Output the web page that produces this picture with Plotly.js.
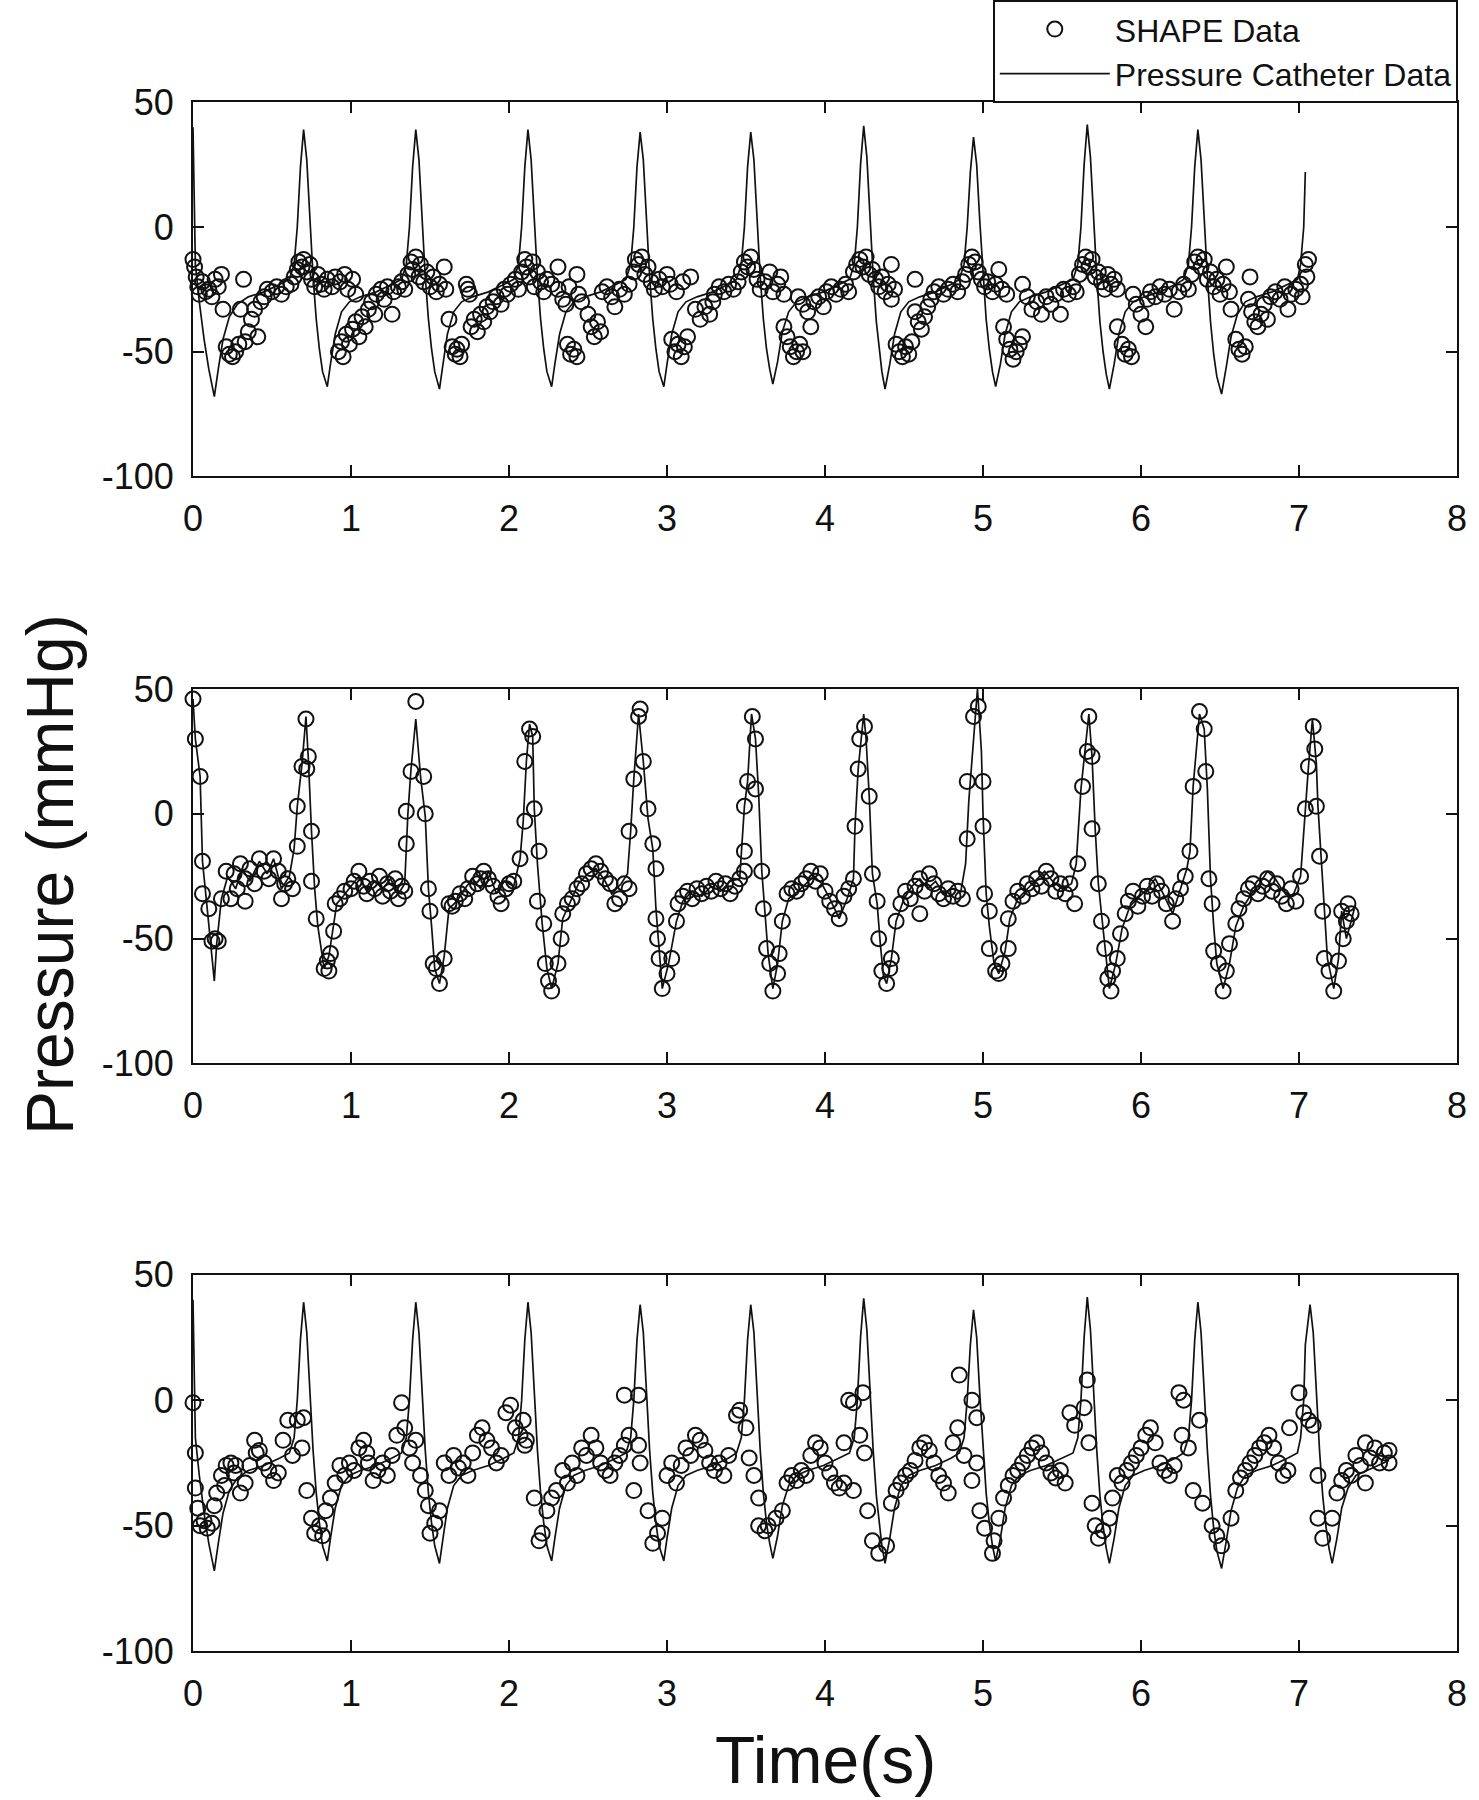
<!DOCTYPE html>
<html>
<head>
<meta charset="utf-8">
<script src="https://cdn.plot.ly/plotly-3.0.1.min.js"></script>
<style>body { margin: 0; background: #fff; }</style>
</head>
<body>
<div id="chart" style="width:1479px;height:1800px"></div>
<script>
// pressure catheter recording [time s, mmHg], same trace in top and bottom panel
var catheter = [
    [0.000,40],[0.008,10],[0.015,-15],[0.04,-30],[0.07,-45],[0.10,-57],[0.135,-68],[0.16,-57],[0.19,-45],[0.23,-36],[0.28,-31],[0.35,-28],[0.45,-26],[0.55,-23],[0.61,-21],
    [0.64,-15],[0.66,0],[0.68,24],[0.70,39],[0.72,27],[0.74,3],[0.76,-20],[0.78,-37],[0.80,-49],[0.82,-58],[0.85,-64],[0.87,-55],[0.90,-43],[0.94,-34],[0.99,-30],[1.06,-28],[1.16,-26],[1.26,-23],[1.32,-21],
    [1.35,-15],[1.37,0],[1.39,24],[1.41,39],[1.43,27],[1.45,3],[1.47,-20],[1.49,-37],[1.51,-49],[1.53,-58],[1.56,-65],[1.58,-56],[1.61,-43],[1.65,-34],[1.70,-30],[1.77,-28],[1.87,-26],[1.97,-23],[2.03,-21],
    [2.06,-15],[2.08,0],[2.10,24],[2.12,39],[2.14,27],[2.16,3],[2.18,-20],[2.20,-37],[2.22,-49],[2.24,-58],[2.27,-64],[2.29,-55],[2.32,-43],[2.36,-34],[2.41,-30],[2.48,-28],[2.58,-26],[2.68,-23],[2.74,-21],
    [2.77,-15],[2.79,0],[2.81,24],[2.83,38],[2.85,27],[2.87,3],[2.89,-20],[2.91,-37],[2.93,-49],[2.95,-58],[2.98,-64],[3.00,-55],[3.03,-43],[3.07,-34],[3.12,-30],[3.19,-28],[3.29,-26],[3.39,-23],[3.44,-21],
    [3.47,-15],[3.49,0],[3.51,24],[3.53,38],[3.55,27],[3.57,3],[3.59,-20],[3.61,-37],[3.63,-49],[3.65,-57],[3.67,-63],[3.70,-54],[3.73,-42],[3.77,-34],[3.82,-30],[3.89,-28],[3.99,-26],[4.09,-23],[4.155,-21],
    [4.185,-15],[4.205,0],[4.225,25],[4.245,40.5],[4.265,28],[4.285,3],[4.305,-20],[4.325,-38],[4.345,-50],[4.36,-58],[4.38,-65],[4.41,-55],[4.44,-43],[4.48,-34],[4.53,-30],[4.60,-28],[4.70,-26],[4.80,-23],[4.85,-21],
    [4.88,-15],[4.90,0],[4.92,22],[4.94,36],[4.96,25],[4.98,2],[5.00,-20],[5.02,-37],[5.04,-49],[5.06,-58],[5.08,-64],[5.11,-55],[5.14,-43],[5.18,-34],[5.23,-30],[5.30,-28],[5.40,-26],[5.50,-23],[5.57,-21],
    [5.60,-15],[5.62,0],[5.64,25],[5.66,41],[5.68,28],[5.70,3],[5.72,-20],[5.74,-38],[5.76,-50],[5.78,-59],[5.80,-65],[5.83,-55],[5.86,-43],[5.90,-34],[5.95,-30],[6.02,-28],[6.12,-26],[6.22,-23],[6.27,-21],
    [6.30,-15],[6.32,0],[6.34,24],[6.36,39],[6.38,27],[6.40,3],[6.42,-20],[6.44,-38],[6.46,-51],[6.48,-60],[6.51,-67],[6.54,-56],[6.57,-44],[6.61,-35],[6.66,-30],[6.73,-28],[6.83,-26],[6.93,-23],[6.99,-21],
    [7.01,-15],[7.03,0],[7.04,22],[7.07,38],[7.09,27],[7.11,3],[7.13,-20],[7.15,-38],[7.17,-50],[7.19,-59],[7.21,-65],[7.24,-55],[7.27,-43],[7.31,-35],[7.36,-30],[7.43,-28],[7.50,-26],[7.57,-24]
]
var topPanelEnd = 7.04

// catheter trace of the middle panel
var catheterMid = [
    [0.00,46],[0.015,30],[0.045,15],[0.06,-19],[0.09,-38],[0.135,-67],[0.15,-52],[0.18,-34],[0.22,-25],[0.27,-30],[0.31,-22],[0.36,-27],[0.42,-19],[0.47,-24],[0.51,-18],[0.56,-30],[0.61,-25],
    [0.64,-14],[0.66,3],[0.69,20],[0.715,39],[0.73,22],[0.75,-7],[0.77,-30],[0.79,-45],[0.83,-62],[0.86,-57],[0.88,-48],[0.91,-36],[0.95,-33],[1.00,-29],[1.05,-25],[1.10,-31],[1.15,-27],[1.20,-30],[1.25,-26],[1.30,-32],[1.34,-28],
    [1.36,0],[1.38,18],[1.41,38],[1.44,15],[1.47,-1],[1.49,-30],[1.51,-45],[1.53,-62],[1.56,-68],[1.59,-57],[1.62,-38],[1.67,-35],[1.72,-30],[1.77,-26],[1.82,-30],[1.87,-23],[1.92,-32],[1.97,-27],[2.03,-29],
    [2.07,-18],[2.09,-3],[2.11,21],[2.13,36],[2.15,31],[2.16,2],[2.18,-20],[2.21,-44],[2.24,-62],[2.27,-70],[2.31,-60],[2.34,-42],[2.39,-35],[2.44,-28],[2.50,-24],[2.55,-22],[2.60,-26],[2.65,-32],[2.71,-28],[2.75,-24],
    [2.77,-7],[2.79,14],[2.82,40],[2.85,21],[2.88,-2],[2.91,-14],[2.93,-38],[2.95,-55],[2.97,-70],[3.01,-60],[3.06,-43],[3.10,-35],[3.16,-31],[3.22,-33],[3.28,-29],[3.34,-31],[3.40,-27],[3.46,-26],
    [3.49,3],[3.51,13],[3.535,40],[3.56,30],[3.58,8],[3.60,-23],[3.62,-40],[3.64,-56],[3.67,-70],[3.70,-60],[3.73,-43],[3.77,-34],[3.83,-31],[3.88,-28],[3.93,-25],[3.98,-28],[4.03,-34],[4.09,-42],[4.14,-34],[4.18,-26],
    [4.19,-5],[4.21,18],[4.245,40],[4.26,30],[4.28,7],[4.30,-24],[4.33,-36],[4.35,-52],[4.37,-65],[4.39,-68],[4.42,-58],[4.45,-43],[4.50,-34],[4.55,-29],[4.60,-26],[4.65,-30],[4.70,-27],[4.75,-32],[4.80,-30],[4.86,-31],
    [4.89,-20],[4.91,5],[4.94,30],[4.965,50],[4.99,25],[5.00,0],[5.02,-32],[5.04,-45],[5.07,-60],[5.10,-64],[5.14,-55],[5.17,-42],[5.22,-34],[5.28,-30],[5.33,-27],[5.39,-23],[5.44,-27],[5.50,-30],[5.56,-28],
    [5.59,-20],[5.62,10],[5.65,28],[5.67,40],[5.69,23],[5.71,-6],[5.73,-28],[5.76,-46],[5.78,-60],[5.80,-70],[5.84,-60],[5.88,-46],[5.93,-37],[5.99,-33],[6.04,-30],[6.09,-26],[6.14,-32],[6.20,-40],[6.25,-30],[6.29,-22],
    [6.31,-15],[6.33,11],[6.37,40],[6.40,34],[6.42,10],[6.44,-26],[6.46,-45],[6.48,-60],[6.52,-70],[6.56,-60],[6.60,-45],[6.65,-37],[6.70,-32],[6.75,-28],[6.80,-23],[6.85,-26],[6.90,-31],[6.96,-33],[7.01,-25],
    [7.04,2],[7.06,19],[7.085,38],[7.11,20],[7.12,3],[7.14,-17],[7.16,-40],[7.18,-58],[7.22,-70],[7.25,-58],[7.27,-39],[7.30,-50],[7.33,-43],[7.35,-38]
]

// SHAPE estimates [time s, mmHg], one list per panel
var shapeTop = [
    [0.00,-13],[0.01,-16],[0.02,-20],[0.03,-24],[0.04,-27],[0.06,-22],[0.08,-26],[0.10,-25],[0.12,-28],[0.14,-21],[0.16,-24],[0.18,-19],[0.19,-33],[0.21,-48],[0.23,-51],[0.25,-52],[0.27,-50],[0.29,-47],[0.30,-33],[0.32,-21],
    [0.33,-46],[0.35,-42],[0.37,-37],[0.39,-33],[0.41,-44],[0.43,-30],[0.45,-28],[0.47,-25],[0.50,-26],[0.53,-24],[0.56,-27],[0.59,-24],[0.62,-23],
    [0.64,-20],[0.66,-17],[0.67,-14],[0.69,-16],[0.70,-13],[0.72,-18],[0.74,-15],[0.75,-21],[0.77,-24],[0.79,-19],[0.81,-23],[0.83,-25],[0.85,-21],[0.88,-24],[0.90,-20],[0.93,-22],[0.96,-19],[0.98,-25],[1.01,-21],[1.03,-27],
    [0.92,-50],[0.94,-46],[0.95,-52],[0.97,-43],[0.99,-47],[1.01,-41],[1.03,-38],[1.05,-44],[1.07,-36],[1.09,-40],[1.11,-33],[1.13,-30],[1.15,-35],
    [1.16,-27],[1.19,-25],[1.21,-29],[1.23,-24],[1.26,-35],[1.27,-26],[1.30,-24],[1.32,-22],[1.34,-25],
    [1.36,-19],[1.38,-14],[1.39,-17],[1.41,-12],[1.43,-20],[1.44,-15],[1.46,-22],[1.48,-18],[1.50,-24],[1.52,-20],[1.54,-26],[1.56,-23],[1.59,-16],[1.60,-25],
    [1.62,-37],[1.64,-48],[1.66,-51],[1.67,-49],[1.69,-52],[1.70,-47],[1.73,-23],[1.74,-25],[1.75,-27],
    [1.76,-40],[1.78,-37],[1.80,-42],[1.82,-35],[1.84,-38],[1.86,-32],[1.88,-34],[1.90,-30],[1.92,-28],[1.95,-31],[1.97,-25],[1.99,-27],[2.01,-23],[2.04,-21],[2.06,-25],
    [2.08,-18],[2.10,-13],[2.11,-16],[2.13,-20],[2.15,-14],[2.16,-24],[2.18,-18],[2.20,-22],[2.22,-26],[2.24,-21],[2.27,-23],
    [2.31,-16],[2.31,-25],[2.34,-29],[2.36,-31],[2.38,-24],[2.43,-19],[2.44,-27],[2.46,-30],[2.37,-47],[2.39,-51],[2.41,-49],[2.43,-52],
    [2.50,-35],[2.52,-40],[2.54,-44],[2.56,-38],[2.58,-42],[2.59,-26],[2.62,-24],[2.65,-28],[2.67,-32],[2.70,-25],[2.73,-27],[2.76,-23],
    [2.79,-18],[2.80,-13],[2.82,-15],[2.84,-12],[2.86,-19],[2.88,-16],[2.90,-22],[2.92,-25],[2.95,-21],[2.97,-24],[3.00,-19],[3.02,-23],[3.06,-26],[3.10,-22],[3.15,-20],
    [3.03,-45],[3.05,-50],[3.07,-47],[3.09,-52],[3.11,-48],[3.13,-44],[3.18,-33],[3.21,-37],[3.24,-32],[3.27,-35],[3.29,-30],
    [3.30,-27],[3.33,-24],[3.36,-26],[3.39,-23],[3.42,-25],[3.45,-22],
    [3.47,-18],[3.49,-14],[3.51,-16],[3.53,-12],[3.55,-17],[3.57,-21],[3.59,-25],[3.62,-22],[3.65,-18],[3.67,-26],[3.70,-23],[3.72,-20],[3.74,-27],
    [3.74,-40],[3.76,-44],[3.78,-48],[3.80,-52],[3.82,-50],[3.84,-47],[3.86,-50],
    [3.83,-28],[3.86,-31],[3.89,-34],[3.91,-40],[3.93,-30],[3.96,-28],[3.99,-32],[4.01,-26],[4.04,-24],[4.07,-27],[4.10,-25],[4.13,-23],[4.15,-26],
    [4.18,-18],[4.20,-15],[4.22,-13],[4.24,-16],[4.26,-12],[4.28,-19],[4.30,-17],[4.32,-21],[4.34,-24],[4.36,-20],[4.38,-26],[4.40,-23],[4.42,-15],[4.42,-29],[4.44,-25],
    [4.45,-47],[4.47,-50],[4.49,-52],[4.51,-48],[4.53,-51],[4.55,-46],
    [4.57,-21],[4.57,-34],[4.59,-38],[4.61,-41],[4.63,-36],[4.65,-32],[4.67,-29],[4.69,-26],[4.72,-24],[4.75,-27],[4.78,-25],[4.81,-23],[4.84,-26],[4.87,-22],
    [4.89,-19],[4.91,-15],[4.93,-12],[4.95,-14],[4.97,-18],[4.99,-21],[5.01,-24],[5.03,-22],[5.06,-26],[5.08,-23],[5.10,-17],[5.12,-25],[5.15,-27],
    [5.13,-40],[5.15,-45],[5.17,-49],[5.19,-53],[5.21,-50],[5.23,-47],[5.25,-44],
    [5.25,-23],[5.28,-28],[5.31,-33],[5.34,-30],[5.37,-35],[5.40,-28],[5.43,-31],[5.46,-27],[5.49,-35],[5.51,-25],[5.54,-27],[5.57,-24],[5.59,-26],
    [5.61,-19],[5.63,-15],[5.65,-12],[5.67,-16],[5.69,-13],[5.71,-20],[5.73,-18],[5.75,-22],[5.77,-25],[5.79,-19],[5.81,-23],[5.83,-21],[5.85,-25],
    [5.85,-40],[5.88,-47],[5.90,-51],[5.92,-49],[5.94,-52],
    [5.95,-27],[5.97,-31],[6.00,-35],[6.03,-40],[6.04,-29],[6.06,-26],[6.09,-28],[6.12,-24],[6.15,-27],[6.18,-25],[6.21,-33],[6.24,-26],[6.27,-23],[6.30,-25],
    [6.32,-19],[6.34,-14],[6.36,-12],[6.38,-16],[6.40,-13],[6.42,-21],[6.44,-18],[6.46,-24],[6.48,-21],[6.50,-27],[6.52,-23],[6.54,-16],[6.56,-26],[6.57,-33],
    [6.60,-45],[6.62,-49],[6.64,-51],[6.66,-48],
    [6.69,-20],[6.68,-29],[6.70,-34],[6.72,-38],[6.74,-40],[6.76,-35],[6.78,-31],[6.80,-37],[6.82,-28],
    [6.85,-26],[6.88,-29],[6.91,-24],[6.93,-33],[6.95,-27],[6.98,-25],[7.01,-23],[7.02,-28],[7.04,-15],[7.05,-20],[7.06,-13]
]

var shapeMid = [
    [0.00,46],[0.015,30],[0.045,15],[0.06,-19],[0.06,-32],[0.10,-38],[0.12,-51],[0.14,-50],[0.16,-51],[0.18,-34],[0.21,-23],[0.24,-34],[0.26,-24],[0.28,-30],[0.30,-20],[0.33,-35],[0.33,-26],[0.36,-22],[0.39,-28],[0.42,-18],[0.45,-23],[0.48,-26],[0.51,-18],[0.54,-23],[0.56,-34],[0.58,-28],[0.60,-26],[0.63,-30],
    [0.66,-13],[0.66,3],[0.69,19],[0.72,18],[0.715,38],[0.73,23],[0.75,-7],[0.75,-27],[0.78,-42],[0.83,-62],[0.85,-59],[0.87,-56],[0.86,-63],[0.89,-47],[0.90,-36],[0.93,-34],[0.96,-31],[1.00,-30],[1.02,-27],[1.05,-23],[1.08,-29],[1.10,-32],[1.12,-27],[1.15,-30],[1.18,-25],[1.20,-33],[1.23,-28],[1.25,-31],[1.28,-26],[1.30,-34],[1.32,-29],[1.34,-31],
    [1.35,1],[1.35,-12],[1.38,17],[1.41,45],[1.46,15],[1.47,0],[1.49,-30],[1.50,-39],[1.52,-60],[1.54,-62],[1.56,-68],[1.59,-58],[1.62,-36],[1.64,-37],[1.66,-35],[1.69,-32],[1.72,-34],[1.74,-30],[1.77,-25],[1.80,-28],[1.82,-26],[1.84,-23],[1.87,-26],[1.90,-29],[1.93,-33],[1.95,-36],[1.98,-30],[2.00,-28],[2.03,-27],
    [2.07,-18],[2.10,-3],[2.10,21],[2.13,34],[2.15,31],[2.16,2],[2.18,-35],[2.19,-15],[2.22,-44],[2.23,-60],[2.25,-67],[2.27,-71],[2.31,-60],[2.33,-50],[2.34,-40],[2.37,-36],[2.40,-34],[2.43,-30],[2.46,-28],[2.49,-24],[2.52,-22],[2.55,-20],[2.58,-23],[2.61,-26],[2.64,-28],[2.67,-36],[2.70,-34],[2.73,-28],[2.76,-30],
    [2.76,-7],[2.79,14],[2.82,39],[2.83,42],[2.85,21],[2.88,2],[2.91,-12],[2.93,-22],[2.93,-42],[2.94,-50],[2.95,-58],[2.97,-70],[3.00,-64],[3.03,-58],[3.06,-43],[3.07,-36],[3.10,-33],[3.13,-31],[3.16,-34],[3.19,-30],[3.22,-32],[3.25,-29],[3.28,-31],[3.31,-27],[3.34,-30],[3.37,-28],[3.40,-32],[3.43,-29],[3.46,-26],
    [3.49,-23],[3.49,-15],[3.49,3],[3.51,13],[3.54,39],[3.56,30],[3.56,10],[3.60,-23],[3.61,-38],[3.63,-54],[3.65,-60],[3.67,-71],[3.70,-64],[3.71,-56],[3.73,-43],[3.76,-32],[3.79,-30],[3.82,-31],[3.85,-28],[3.88,-26],[3.91,-23],[3.94,-27],[3.97,-24],[4.00,-31],[4.03,-35],[4.06,-38],[4.09,-42],[4.12,-33],[4.15,-30],
    [4.18,-26],[4.19,-5],[4.21,18],[4.22,30],[4.25,35],[4.28,7],[4.30,-24],[4.33,-35],[4.34,-50],[4.36,-63],[4.39,-68],[4.41,-62],[4.42,-58],[4.45,-43],[4.48,-36],[4.51,-31],[4.54,-34],[4.57,-29],[4.60,-26],[4.60,-40],[4.63,-31],[4.66,-24],[4.69,-28],[4.72,-32],[4.75,-34],[4.78,-30],[4.81,-33],[4.84,-31],[4.87,-34],
    [4.90,-10],[4.90,13],[4.94,39],[4.97,43],[5.00,13],[5.00,-5],[5.01,-32],[5.04,-39],[5.04,-54],[5.08,-63],[5.10,-64],[5.12,-60],[5.16,-54],[5.16,-42],[5.19,-35],[5.22,-31],[5.25,-33],[5.28,-28],[5.31,-30],[5.34,-26],[5.37,-29],[5.40,-23],[5.43,-26],[5.46,-31],[5.49,-28],[5.52,-32],[5.55,-28],[5.58,-36],
    [5.60,-20],[5.63,11],[5.66,25],[5.67,39],[5.69,23],[5.69,-6],[5.73,-28],[5.75,-43],[5.77,-54],[5.79,-66],[5.81,-71],[5.82,-63],[5.85,-58],[5.87,-48],[5.90,-40],[5.92,-35],[5.95,-31],[5.98,-37],[6.01,-33],[6.04,-29],[6.07,-33],[6.10,-28],[6.13,-31],[6.16,-36],[6.20,-43],[6.22,-34],[6.25,-30],[6.28,-25],
    [6.31,-15],[6.33,11],[6.37,41],[6.40,34],[6.41,17],[6.43,-26],[6.45,-36],[6.46,-55],[6.49,-60],[6.52,-71],[6.54,-63],[6.56,-52],[6.60,-44],[6.62,-38],[6.65,-34],[6.68,-30],[6.71,-28],[6.74,-32],[6.77,-29],[6.80,-26],[6.83,-31],[6.86,-28],[6.89,-33],[6.92,-36],[6.95,-30],[6.98,-35],[7.01,-25],
    [7.04,2],[7.06,19],[7.09,35],[7.10,26],[7.11,3],[7.13,-17],[7.15,-39],[7.16,-58],[7.19,-63],[7.22,-71],[7.25,-59],[7.27,-39],[7.28,-50],[7.30,-43],[7.31,-36],[7.33,-40]
]

var shapeBottom = [
    [0.00,-1],[0.015,-21],[0.015,-35],[0.03,-43],[0.045,-50],[0.07,-48],[0.09,-51],[0.12,-49],[0.135,-42],[0.15,-37],[0.18,-30],[0.20,-34],[0.21,-26],[0.24,-25],[0.26,-29],[0.27,-26],[0.30,-37],[0.33,-33],[0.36,-26],[0.39,-16],[0.40,-21],[0.42,-20],[0.45,-25],[0.48,-28],[0.51,-32],[0.54,-29],[0.57,-16],[0.60,-8],[0.63,-22],[0.66,-8],[0.69,-19],[0.70,-7],
    [0.72,-36],[0.75,-47],[0.77,-53],[0.80,-50],[0.82,-54],[0.84,-44],[0.87,-39],[0.90,-33],[0.93,-26],[0.96,-30],[0.99,-25],[1.02,-28],[1.05,-19],[1.08,-16],[1.10,-21],[1.11,-25],[1.14,-32],[1.17,-28],[1.20,-25],[1.23,-30],[1.26,-22],[1.29,-14],[1.32,-1],[1.34,-11],[1.37,-19],[1.39,-25],[1.41,-16],
    [1.44,-30],[1.47,-36],[1.49,-42],[1.50,-53],[1.53,-49],[1.56,-44],[1.59,-25],[1.62,-30],[1.65,-22],[1.68,-27],[1.71,-25],[1.74,-30],[1.77,-21],[1.80,-14],[1.83,-11],[1.86,-16],[1.89,-19],[1.92,-25],[1.95,-22],[1.98,-5],[2.01,-2],[2.04,-11],[2.07,-14],[2.09,-8],[2.10,-18],[2.11,-16],
    [2.16,-39],[2.19,-56],[2.21,-53],[2.24,-44],[2.27,-39],[2.30,-36],[2.34,-28],[2.37,-33],[2.40,-25],[2.43,-30],[2.46,-19],[2.49,-22],[2.52,-14],[2.55,-19],[2.58,-25],[2.61,-28],[2.64,-30],[2.67,-25],[2.70,-22],[2.73,2],[2.73,-18],[2.76,-14],[2.79,-36],[2.82,2],[2.82,-18],[2.83,-25],
    [2.88,-44],[2.91,-57],[2.94,-53],[2.97,-47],[3.00,-30],[3.03,-25],[3.06,-33],[3.09,-26],[3.12,-19],[3.15,-22],[3.18,-14],[3.21,-16],[3.24,-20],[3.27,-25],[3.30,-28],[3.33,-25],[3.36,-30],[3.39,-22],[3.44,-6],[3.46,-4],[3.50,-11],[3.52,-23],[3.55,-30],
    [3.58,-39],[3.58,-50],[3.62,-52],[3.64,-50],[3.69,-47],[3.73,-44],[3.76,-33],[3.79,-30],[3.82,-32],[3.85,-28],[3.88,-30],[3.91,-22],[3.94,-17],[3.97,-19],[4.00,-25],[4.03,-29],[4.06,-33],[4.09,-35],[4.12,-33],[4.12,-17],[4.15,0],[4.18,-1],[4.24,3],[4.18,-36],[4.22,-14],[4.25,-21],
    [4.27,-44],[4.30,-56],[4.34,-61],[4.39,-58],[4.42,-41],[4.45,-36],[4.48,-33],[4.51,-30],[4.54,-28],[4.57,-24],[4.60,-19],[4.63,-17],[4.66,-20],[4.69,-25],[4.72,-30],[4.75,-33],[4.78,-37],[4.81,-17],[4.84,-11],[4.85,10],[4.88,-22],[4.93,0],[4.96,-7],[4.96,-25],[4.93,-32],
    [4.98,-44],[5.01,-51],[5.06,-61],[5.07,-56],[5.10,-47],[5.13,-39],[5.16,-34],[5.19,-30],[5.22,-28],[5.25,-25],[5.28,-22],[5.31,-19],[5.34,-17],[5.37,-21],[5.40,-25],[5.43,-29],[5.46,-31],[5.49,-28],[5.52,-33],[5.55,-5],[5.58,-10],[5.64,-3],[5.66,8],[5.67,-17],
    [5.69,-41],[5.71,-50],[5.73,-55],[5.76,-52],[5.80,-47],[5.82,-39],[5.85,-30],[5.88,-33],[5.91,-28],[5.94,-25],[5.97,-22],[6.00,-19],[6.03,-14],[6.06,-11],[6.09,-17],[6.12,-25],[6.15,-28],[6.18,-30],[6.21,-26],[6.24,3],[6.27,0],[6.26,-14],[6.30,-19],[6.33,-36],[6.37,-8],
    [6.39,-41],[6.45,-50],[6.48,-54],[6.51,-58],[6.57,-47],[6.60,-36],[6.63,-31],[6.66,-28],[6.69,-25],[6.72,-22],[6.75,-19],[6.78,-17],[6.81,-14],[6.84,-19],[6.87,-25],[6.90,-30],[6.93,-28],[6.94,-11],[7.00,3],[7.03,-5],[7.06,-8],[7.09,-10],[7.12,-30],
    [7.12,-47],[7.15,-55],[7.21,-47],[7.24,-37],[7.27,-32],[7.30,-28],[7.33,-30],[7.36,-22],[7.39,-26],[7.42,-17],[7.42,-33],[7.45,-23],[7.48,-19],[7.51,-25],[7.54,-21],[7.57,-20],[7.57,-25]
]

var xTicks = [0, 1, 2, 3, 4, 5, 6, 7, 8]
var yTicks = [-100, -50, 0, 50]
var yTickText = ['-100', '-50', '0', '50']

var ink = '#111'
var font = 'Liberation Sans, Arial, Helvetica, sans-serif'

function col(pts, i) { return pts.map(p => p[i]) }

function shapeTrace(pts, n, legend) {
    return {
        x: col(pts, 0), y: col(pts, 1),
        mode: 'markers', type: 'scatter', name: 'SHAPE Data',
        showlegend: legend, cliponaxis: false,
        marker: { symbol: 'circle-open', size: 15, color: ink, line: { width: 2, color: ink } },
        xaxis: 'x' + n, yaxis: 'y' + n
    }
}

function lineTrace(pts, n, legend) {
    return {
        x: col(pts, 0), y: col(pts, 1),
        mode: 'lines', type: 'scatter', name: 'Pressure Catheter Data',
        showlegend: legend,
        line: { color: ink, width: 1.7 },
        xaxis: 'x' + n, yaxis: 'y' + n
    }
}

var catheterTop = catheter.filter(p => p[0] <= topPanelEnd)

var data = [
    shapeTrace(shapeTop, '', true),
    lineTrace(catheterTop, '', true),
    lineTrace(catheterMid, '2', false),
    shapeTrace(shapeMid, '2', false),
    lineTrace(catheter, '3', false),
    shapeTrace(shapeBottom, '3', false)
]

var axisBase = {
    showline: true, linecolor: ink, linewidth: 2, mirror: 'allticks',
    ticks: 'inside', ticklen: 11, tickwidth: 1.8, tickcolor: ink,
    showgrid: false, zeroline: false,
    tickfont: { family: font, size: 36, color: ink }
}

function xAxis(n) {
    return Object.assign({}, axisBase, {
        domain: [193 / 1479, 1457 / 1479], range: [0, 8], tickvals: xTicks,
        anchor: 'y' + n, ticklabelstandoff: 9
    })
}

function yAxis(n, dom) {
    return Object.assign({}, axisBase, {
        domain: dom, range: [-100, 50], tickvals: yTicks, ticktext: yTickText,
        anchor: 'x' + n, ticklabelstandoff: 10
    })
}

var layout = {
    width: 1479, height: 1800,
    margin: { l: 0, r: 0, t: 0, b: 0 },
    paper_bgcolor: '#fff', plot_bgcolor: '#fff',
    showlegend: true,
    legend: {
        x: 1458 / 1479, xanchor: 'right', y: 1, yanchor: 'top',
        bordercolor: ink, borderwidth: 1.8, bgcolor: '#fff',
        font: { family: font, size: 32, color: ink },
        itemwidth: 110, tracegroupgap: 0
    },
    xaxis: xAxis(''),
    yaxis: yAxis('', [0.7353, 0.9432]),
    xaxis2: xAxis('2'),
    yaxis2: yAxis('2', [0.4092, 0.6172]),
    xaxis3: xAxis('3'),
    yaxis3: yAxis('3', [0.0826, 0.2919]),
    annotations: [
        {
            text: 'Pressure (mmHg)', xref: 'paper', yref: 'paper',
            x: 50 / 1479, y: 1 - 875 / 1800, textangle: -90,
            xanchor: 'center', yanchor: 'middle', showarrow: false,
            font: { family: font, size: 66, color: ink }
        },
        {
            text: 'Time(s)', xref: 'paper', yref: 'paper',
            x: 825 / 1479, y: 1 - 1760 / 1800,
            xanchor: 'center', yanchor: 'middle', showarrow: false,
            font: { family: font, size: 66, color: ink }
        }
    ]
}

Plotly.newPlot('chart', data, layout, { staticPlot: true });
</script>
</body>
</html>
